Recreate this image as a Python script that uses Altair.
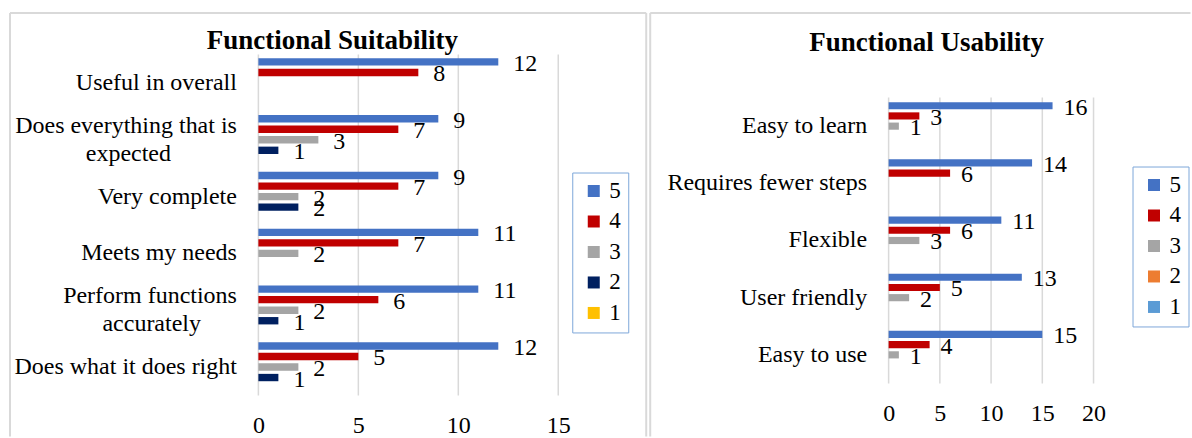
import altair as alt
import pandas as pd

FONT = "Times New Roman"
FONT_TITLE = "Liberation Serif"
series = ["5", "4", "3", "2", "1"]

# ---- Functional Suitability ----
suit_title = "Functional Suitability"
suit_categories = [
    "Useful in overall",
    "Does everything that is\nexpected",
    "Very complete",
    "Meets my needs",
    "Perform functions\naccurately",
    "Does what it does right",
]
# non-breaking-space padding so that the second line sits centred under the first
suit_pad = [0, 11, 0, 0, 6, 0]
suit_5 = [12, 9, 9, 11, 11, 12]
suit_4 = [8, 7, 7, 7, 6, 5]
suit_3 = [0, 3, 2, 2, 2, 2]
suit_2 = [0, 1, 2, 0, 1, 1]
suit_1 = [0, 0, 0, 0, 0, 0]
suit_colors = ["#4472C4", "#C00000", "#A5A5A5", "#002060", "#FFC000"]
suit_ticks = [0, 5, 10, 15]

# ---- Functional Usability ----
use_title = "Functional Usability"
use_categories = ["Easy to learn", "Requires fewer steps", "Flexible", "User friendly", "Easy to use"]
use_pad = [0, 0, 0, 0, 0]
use_5 = [16, 14, 11, 13, 15]
use_4 = [3, 6, 6, 5, 4]
use_3 = [1, 0, 3, 2, 1]
use_2 = [0, 0, 0, 0, 0]
use_1 = [0, 0, 0, 0, 0]
use_colors = ["#4472C4", "#C00000", "#A5A5A5", "#ED7D31", "#5B9BD5"]
use_ticks = [0, 5, 10, 15, 20]

BORDER = "#D9D9D9"
LINE_H = 28


def panel(cats, pads, vals, colors, ticks, W, H, top_gap, po, title, tx, ty, legx, legy, dx,
          bl, bt, br, bb, right_side):
    labels = [c + ("\u00a0" * p + "\u200b" if p else "") for c, p in zip(cats, pads)]
    rows = []
    for s, v in zip(series, vals):
        for lab, val in zip(labels, v):
            if val > 0:
                rows.append({"cat": lab, "series": s, "value": val})
    df = pd.DataFrame(rows)

    n = len(labels)
    band_len = H - top_gap
    step = band_len / n
    outer = (H / step - n) / 2.0
    y = alt.Y(
        "cat:N",
        sort=labels,
        scale=alt.Scale(domain=labels, paddingInner=0, paddingOuter=outer, align=1),
        axis=alt.Axis(
            title=None, labelExpr="split(datum.label, '\\n')", labelFont=FONT,
            labelFontSize=24, labelColor="#000", labelPadding=22, labelLimit=400,
            labelLineHeight=LINE_H, ticks=False, domain=False, grid=False,
            labelOffset={
                "condition": {"test": "indexof(datum.value, '\\n') >= 0", "value": -LINE_H / 2},
                "value": 0,
            },
        ),
    )
    x = alt.X(
        "value:Q",
        scale=alt.Scale(domain=[ticks[0], ticks[-1]], nice=False),
        axis=alt.Axis(
            values=ticks, title=None, ticks=False, tickSize=0, domain=False, grid=False,
            labelFont=FONT, labelFontSize=24, labelColor="#000", labelPadding=18,
            labelFlush=False, labelOverlap=False,
        ),
    )
    yo = alt.YOffset("series:N", scale=alt.Scale(domain=series, paddingInner=0.3, paddingOuter=po))

    grid = alt.Chart(pd.DataFrame({"value": ticks})).mark_rule(
        color="#D9D9D9", strokeWidth=1.5
    ).encode(x=x, y=alt.value(top_gap), y2=alt.value(H))

    bars = alt.Chart(df).mark_bar().encode(
        y=y, x=x, yOffset=yo,
        color=alt.Color(
            "series:N",
            scale=alt.Scale(domain=series, range=colors),
            legend=alt.Legend(
                title=None, orient="none", legendX=legx, legendY=legy,
                symbolType="square", symbolSize=144, symbolStrokeWidth=0,
                labelFont=FONT, labelFontSize=23, labelColor="#000",
                rowPadding=6.5, padding=7, labelOffset=4, symbolOffset=3,
                strokeColor="#7DA7D9", fillColor="white",
            ),
        ),
    )
    text = alt.Chart(df).mark_text(
        align="left", baseline="middle", dx=dx, dy=2, font=FONT, fontSize=24, color="#000"
    ).encode(y=y, x=x, yOffset=yo, text=alt.Text("value:Q"))

    one = pd.DataFrame({"k": [0]})
    rule = lambda: alt.Chart(one).mark_rule(color=BORDER, strokeWidth=2)
    layers = [
        grid, bars, text,
        rule().encode(x=alt.value(bl), x2=alt.value(br), y=alt.value(bt)),
        rule().encode(x=alt.value(bl), y=alt.value(bt), y2=alt.value(bb)),
    ]
    if right_side:
        layers.append(rule().encode(x=alt.value(br), y=alt.value(bt), y2=alt.value(bb)))
    ttl = alt.Chart(pd.DataFrame({"t": [title]})).mark_text(
        font=FONT_TITLE, fontSize=27, fontWeight="bold", color="#000", align="center", baseline="middle"
    ).encode(x=alt.value(tx), y=alt.value(ty), text="t:N")
    layers.append(ttl)
    return alt.layer(*layers).properties(width=W, height=H)


# both plot origins sit at page y = 54; left x origin 258, right x origin 888
left = panel(
    suit_categories, suit_pad, [suit_5, suit_4, suit_3, suit_2, suit_1], suit_colors, suit_ticks,
    300, 341, 0, 0.35, suit_title, 74, -14, 314, 118, 15,
    -248.5, -41.5, 388, 382, True,
)
right = panel(
    use_categories, use_pad, [use_5, use_4, use_3, use_2, use_1], use_colors, use_ticks,
    205, 329, 43, 0.45, use_title, 38, -12, 244, 112, 11,
    -238.5, -41.5, 302, 382, False,
)

chart = (
    alt.hconcat(left, right, spacing=1.5)
    .resolve_scale(x="independent", y="independent", color="independent", yOffset="independent")
    .resolve_legend(color="independent")
    .properties(padding={"left": 8.5, "top": 11.5, "right": 0, "bottom": 0}, background="white")
    .configure_view(stroke=None)
)

chart.save("out.html", embed_options={"renderer": "svg", "actions": False})
